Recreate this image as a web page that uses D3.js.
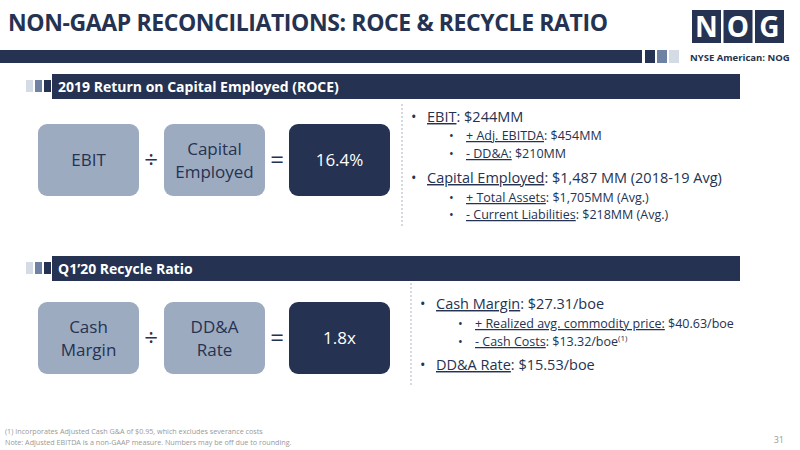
<!DOCTYPE html>
<html><head><meta charset="utf-8">
<script src="https://cdn.jsdelivr.net/npm/d3@7"></script>
<style>body{margin:0;background:#fff}text{font-family:"Open Sans","Liberation Sans",sans-serif}</style>
</head><body><svg id="s" width="800" height="450"></svg>
<script>
'use strict';
var navy = "#253251", mid = "#6f82a3", light = "#d5dbe5", boxFill = "#9dabc1";

var sections = ["2019 Return on Capital Employed (ROCE)", "Q1\u201920 Recycle Ratio"];
var formulaLabels = [["EBIT", "Capital|Employed", "16.4%"], ["Cash|Margin", "DD&A|Rate", "1.8x"]];
// each bullet: level, parts [text, style] (1 = underlined, 2 = superscript)
var bullets1 = [
	[0, [["EBIT", 1], [": $244MM", 0]]],
	[1, [["+ Adj. EBITDA", 1], [": $454MM", 0]]],
	[1, [["- DD&A:", 1], [" $210MM", 0]]],
	[0, [["Capital Employed", 1], [": $1,487 MM (2018-19 Avg)", 0]]],
	[1, [["+ Total Assets", 1], [": $1,705MM (Avg.)", 0]]],
	[1, [["- Current Liabilities", 1], [": $218MM (Avg.)", 0]]]
];
var bullets1Y = [122, 140, 158, 183, 202, 219];
var bullets2 = [
	[0, [["Cash Margin", 1], [": $27.31/boe", 0]]],
	[1, [["+ Realized avg. commodity price:", 1], [" $40.63/boe", 0]]],
	[1, [["- Cash Costs", 1], [": $13.32/boe", 0], ["(1)", 2]]],
	[0, [["DD&A Rate", 1], [": $15.53/boe", 0]]]
];
var bullets2Y = [309, 328, 346, 370];
var footnotes = ["(1) Incorporates Adjusted Cash G&A of $0.95, which excludes severance costs",
	"Note: Adjusted EBITDA is a non-GAAP measure. Numbers may be off due to rounding."];

var svg = d3.select("#s");

svg.append("text").attr("x", 8).attr("y", 31).attr("fill", navy)
	.attr("font-size", 23).attr("font-weight", "bold").attr("textLength", 600)
	.text("NON-GAAP RECONCILIATIONS: ROCE & RECYCLE RATIO");

// logo
["N", "O", "G"].forEach(function(c, i) {
	svg.append("rect").attr("x", 692 + i * 31.5).attr("y", 10).attr("width", 29).attr("height", 33).attr("fill", navy);
	svg.append("text").attr("x", 706.5 + i * 31.5).attr("y", 37).attr("text-anchor", "middle")
		.attr("fill", "#fff").attr("font-size", 28).attr("font-weight", "bold").text(c);
});

// header bar
svg.append("rect").attr("x", 0).attr("y", 50).attr("width", 642).attr("height", 13).attr("fill", navy);
[navy, mid, light].forEach(function(c, i) {
	svg.append("rect").attr("x", 645 + i * 12).attr("y", 50).attr("width", 10).attr("height", 13).attr("fill", c);
});
svg.append("text").attr("x", 690).attr("y", 61).attr("fill", navy).attr("font-size", 9.5)
	.attr("font-weight", "bold").text("NYSE American: NOG");

function section(y, label) {
	[light, mid, navy].forEach(function(c, i) {
		svg.append("rect").attr("x", 26 + i * 9).attr("y", y + 6).attr("width", 7).attr("height", 12).attr("fill", c);
	});
	svg.append("rect").attr("x", 52).attr("y", y).attr("width", 688).attr("height", 25).attr("fill", navy);
	svg.append("text").attr("x", 58).attr("y", y + 18).attr("fill", "#fff").attr("font-size", 14)
		.attr("font-weight", "bold").text(label);
}

function formula(y, labels) {
	var x = d3.scaleOrdinal().domain([0, 1, 2]).range([38, 164, 289]);
	labels.forEach(function(l, i) {
		svg.append("rect").attr("x", x(i)).attr("y", y).attr("width", 101).attr("height", 72).attr("rx", 9)
			.attr("fill", i === 2 ? navy : boxFill);
		var lines = l.split("|");
		var t = svg.append("text").attr("x", x(i) + 50.5).attr("text-anchor", "middle")
			.attr("fill", i === 2 ? "#fff" : navy).attr("font-size", 17);
		lines.forEach(function(s, j) {
			t.append("tspan").attr("x", x(i) + 50.5).attr("y", y + 42 + (j - (lines.length - 1) / 2) * 23).text(s);
		});
	});
	svg.append("text").attr("x", 151).attr("y", y + 44).attr("text-anchor", "middle").attr("fill", navy)
		.attr("font-size", 24).text("\u00f7");
	svg.append("text").attr("x", 277).attr("y", y + 44).attr("text-anchor", "middle").attr("fill", navy)
		.attr("font-size", 24).text("=");
}

function bulletList(list, ys, x0, lineY) {
	svg.append("line").attr("x1", x0 - 9).attr("x2", x0 - 9).attr("y1", lineY[0]).attr("y2", lineY[1])
		.attr("stroke", "#aab4c6").attr("stroke-dasharray", "2,2");
	list.forEach(function(b, i) {
		var lvl = b[0], fs = lvl ? 12.5 : 14.5;
		var bx = lvl ? x0 + 38 : x0, tx = lvl ? x0 + 55 : x0 + 16;
		svg.append("text").attr("x", bx).attr("y", ys[i]).attr("fill", navy).attr("font-size", fs).text("\u2022");
		var t = svg.append("text").attr("x", tx).attr("y", ys[i]).attr("fill", navy).attr("font-size", fs);
		b[1].forEach(function(p) {
			var sp = t.append("tspan").text(p[0]);
			if (p[1] === 1) sp.attr("text-decoration", "underline");
			if (p[1] === 2) sp.attr("font-size", 8).attr("dy", -5);
		});
	});
}

section(74, sections[0]);
formula(124, formulaLabels[0]);
bulletList(bullets1, bullets1Y, 411, [104, 228]);

section(256, sections[1]);
formula(302, formulaLabels[1]);
bulletList(bullets2, bullets2Y, 420, [283, 385]);

footnotes.forEach(function(f, i) {
	svg.append("text").attr("x", 5).attr("y", 434 + i * 11).attr("fill", "#999").attr("font-size", 7.2).text(f);
});
svg.append("text").attr("x", 784).attr("y", 443).attr("text-anchor", "end").attr("fill", "#999")
	.attr("font-size", 9).text("31");
</script></body></html>
